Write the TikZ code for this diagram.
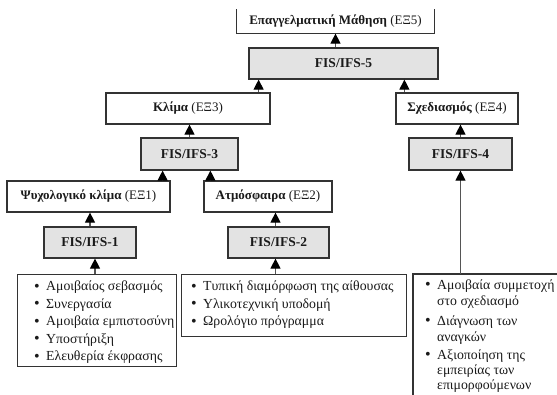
\documentclass[tikz,border=0pt]{standalone}
\usepackage{fontspec}
\setmainfont{Liberation Serif}
\usetikzlibrary{arrows.meta,calc}
\definecolor{boxline}{HTML}{333333}
\definecolor{fisgray}{HTML}{E3E3E3}
\definecolor{conn}{HTML}{555555}
\definecolor{txt}{HTML}{1A1A1A}
\tikzset{
  lbl/.style={draw=boxline, line width=1.2pt, fill=white, inner sep=0pt, text=txt,
    font=\fontsize{13}{15}\selectfont},
  fisbox/.style={lbl, fill=fisgray, font=\fontsize{13.5}{15}\selectfont\bfseries},
  listbox/.style={draw=boxline, line width=1.2pt, fill=white, inner sep=0pt, anchor=north west},
  itemtxt/.style={anchor=base west, inner sep=0pt, text=txt, font=\fontsize{13.8}{15}\selectfont},
  bul/.style={anchor=base, inner sep=0pt, text=txt, font=\fontsize{16}{15}\selectfont},
  arr/.style={draw=conn, line width=1.1pt, -{Triangle[width=10pt,length=10pt,color=black]}},
}
\begin{document}
\begin{tikzpicture}[x=1pt,y=-1pt]
\useasboundingbox (0,0) rectangle (557,394);
\fill[white] (0,0) rectangle (557,394);
% top (open) box
\node[lbl, draw=none, minimum width=197pt, minimum height=23pt] (top) at (335.5,21.5)
  {\textbf{Επαγγελματική Μάθηση} (ΕΞ5)};
\draw[boxline, line width=1.2pt] (top.north west) -- (top.south west) -- (top.south east) -- (top.north east);
% level boxes
\node[fisbox, minimum width=189pt, minimum height=31pt] (fis5) at (343.5,63.5) {FIS/IFS-5};
\node[lbl, minimum width=164pt, minimum height=31pt] (klima) at (188,108.5) {\textbf{Κλίμα} (ΕΞ3)};
\node[lbl, minimum width=122pt, minimum height=31pt] (sxed) at (457,108.5) {\textbf{Σχεδιασμός} (ΕΞ4)};
\node[fisbox, minimum width=97pt, minimum height=32pt] (fis3) at (189.5,154) {FIS/IFS-3};
\node[fisbox, minimum width=103pt, minimum height=32pt] (fis4) at (460.5,154) {FIS/IFS-4};
\node[lbl, minimum width=163pt, minimum height=31pt] (psy) at (88.5,196.5) {\textbf{Ψυχολογικό κλίμα} (ΕΞ1)};
\node[lbl, minimum width=128pt, minimum height=31pt] (atm) at (268,196.5) {\textbf{Ατμόσφαιρα} (ΕΞ2)};
\node[fisbox, minimum width=92pt, minimum height=31pt] (fis1) at (90,242.5) {FIS/IFS-1};
\node[fisbox, minimum width=101pt, minimum height=31pt] (fis2) at (278.5,242.5) {FIS/IFS-2};
% list boxes
\node[listbox, minimum width=159pt, minimum height=92pt] (list1) at (17,274) {};
\node[listbox, minimum width=225pt, minimum height=62pt] (list2) at (181,274) {};
\coordinate (l3c) at (413,274);
\coordinate (l3r) at (560,274);
\coordinate (l3b) at (413,397);
\draw[boxline, line width=1.2pt] (l3r) -- (l3c) -- (l3b);
% list 1 text
\node[bul] (b11) at (37,291) {•}; \node[itemtxt] (t11) at (46,290.5) {Αμοιβαίος σεβασμός};
\node[bul] (b12) at (37,308.5) {•}; \node[itemtxt] (t12) at (46,308) {Συνεργασία};
\node[bul] (b13) at (37,326) {•}; \node[itemtxt] (t13) at (46,325.5) {Αμοιβαία εμπιστοσύνη};
\node[bul] (b14) at (37,343.5) {•}; \node[itemtxt] (t14) at (46,343) {Υποστήριξη};
\node[bul] (b15) at (37,361) {•}; \node[itemtxt] (t15) at (46,360.5) {Ελευθερία έκφρασης};
% list 2 text
\node[bul] (b21) at (194,291) {•}; \node[itemtxt] (t21) at (203,290.5) {Τυπική διαμόρφωση της αίθουσας};
\node[bul] (b22) at (194,308.5) {•}; \node[itemtxt] (t22) at (203,308) {Υλικοτεχνική υποδομή};
\node[bul] (b23) at (194,326) {•}; \node[itemtxt] (t23) at (203,325.5) {Ωρολόγιο πρόγραμμα};
% list 3 text
\node[bul] (b31) at (428,289.5) {•}; \node[itemtxt] (t31) at (437,289) {Αμοιβαία συμμετοχή};
\node[itemtxt] (t32) at (437,305) {στο σχεδιασμό};
\node[bul] (b33) at (428,325.5) {•}; \node[itemtxt] (t33) at (437,325) {Διάγνωση των};
\node[itemtxt] (t34) at (437,341) {αναγκών};
\node[bul] (b35) at (428,359.5) {•}; \node[itemtxt] (t35) at (437,359) {Αξιοποίηση της};
\node[itemtxt] (t36) at (437,374.5) {εμπειρίας των};
\node[itemtxt] (t37) at (437,389.5) {επιμορφούμενων};
% connectors
\draw[arr] (fis5.north -| top.south) -- (top.south);
\draw[arr] ([xshift=-12pt]klima.north east) -- ([xshift=-12pt]klima.north east |- fis5.south);
\draw[arr] ([xshift=9pt]sxed.north west) -- ([xshift=9pt]sxed.north west |- fis5.south);
\draw[arr] (fis3.north) -- (fis3.north |- klima.south);
\draw[arr] (fis4.north) -- (fis4.north |- sxed.south);
\draw[arr] ([xshift=-8pt]psy.north east) -- ([xshift=-8pt]psy.north east |- fis3.south);
\draw[arr] ([xshift=7pt]atm.north west) -- ([xshift=7pt]atm.north west |- fis3.south);
\draw[arr] (fis1.north) -- (fis1.north |- psy.south);
\draw[arr] ([xshift=-3pt]fis2.north) -- ([xshift=-3pt]fis2.north |- atm.south);
\draw[arr] ([xshift=5pt]list1.north -| fis1.south) -- ([xshift=5pt]fis1.south);
\draw[arr] ([xshift=-3pt]fis2.south |- list2.north) -- ([xshift=-3pt]fis2.south);
\draw[arr] (fis4.south |- l3c) -- (fis4.south);
\end{tikzpicture}
\end{document}
